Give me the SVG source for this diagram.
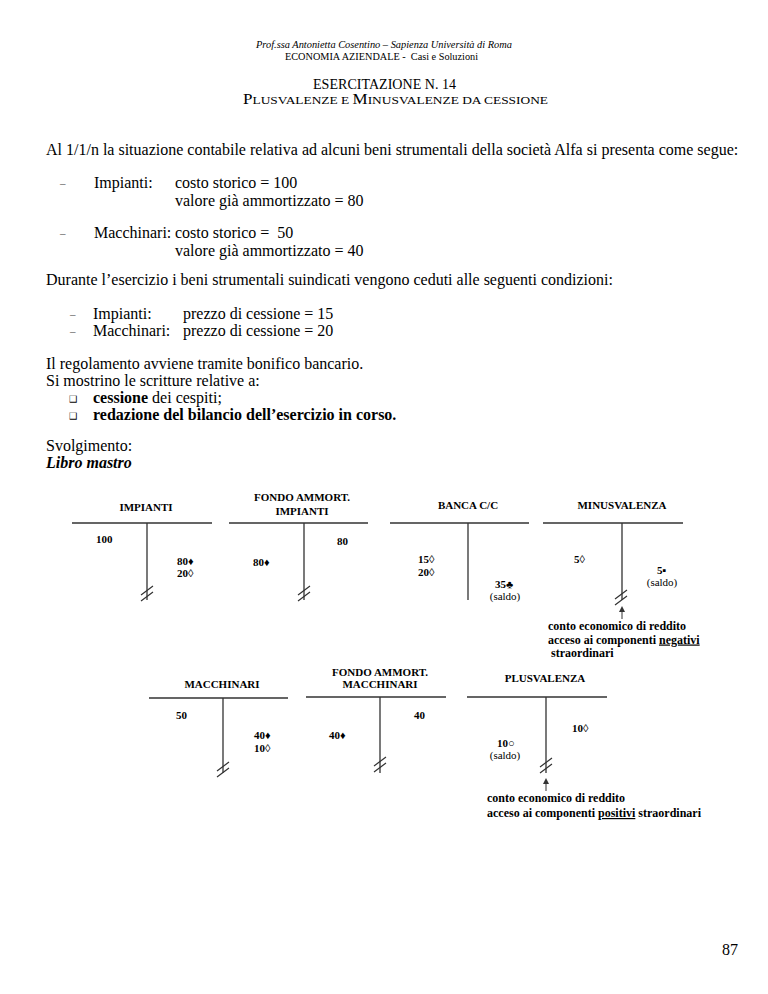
<svg xmlns="http://www.w3.org/2000/svg" xmlns:xlink="http://www.w3.org/1999/xlink" width="768" height="994" viewBox="0 0 768 994">
<style>
text{font-family:"Liberation Serif","Times New Roman",serif;fill:#000}
.body{font-size:16px}
.hd{font-size:11px;font-weight:bold;text-anchor:middle}
.num{font-size:11px;font-weight:bold}
.sal{font-size:11px;text-anchor:middle}
.note{font-size:12px;font-weight:bold}
.box{font-family:"DejaVu Sans",sans-serif;font-size:9px}
.dash{font-size:11px;fill:#444}
.t{stroke:#333;stroke-width:1.3;fill:none}
.brk{stroke:#333;stroke-width:1.2;fill:none}
.arr{stroke:#333;stroke-width:1;fill:none}
</style>
<defs>
<g id="brk"><path class="brk" d="M-6,2 L6,-7 M-6,8 L6,-1"/></g>
<marker id="ah" markerWidth="6" markerHeight="6" refX="3" refY="3" orient="auto" markerUnits="userSpaceOnUse"><path d="M0,0 L6,3 L0,6 Z" fill="#333"/></marker>
</defs>
<rect width="768" height="994" fill="#fff"/>

<g id="header">
<text x="256" y="48" font-size="10" font-style="italic" textLength="256" lengthAdjust="spacingAndGlyphs">Prof.ssa Antonietta Cosentino – Sapienza Università di Roma</text>
<text x="285" y="60" font-size="10" xml:space="preserve" textLength="193" lengthAdjust="spacingAndGlyphs">ECONOMIA AZIENDALE -  Casi e Soluzioni</text>
<text x="313" y="89" font-size="14" textLength="143" lengthAdjust="spacingAndGlyphs">ESERCITAZIONE N. 14</text>
<text x="243" y="104" font-size="11" textLength="305" lengthAdjust="spacingAndGlyphs"><tspan font-size="14">P</tspan>LUSVALENZE E <tspan font-size="14">M</tspan>INUSVALENZE DA CESSIONE</text>
</g>

<g id="testo">
<text class="body" x="46" y="155">Al 1/1/n la situazione contabile relativa ad alcuni beni strumentali della società Alfa si presenta come segue:</text>
<text class="dash" x="60" y="187">–</text>
<text class="body" x="94" y="188">Impianti:</text>
<text class="body" x="175" y="188">costo storico = 100</text>
<text class="body" x="175" y="206">valore già ammortizzato = 80</text>
<text class="dash" x="60" y="237">–</text>
<text class="body" x="94" y="238">Macchinari:</text>
<text class="body" x="175" y="238" xml:space="preserve">costo storico =  50</text>
<text class="body" x="175" y="256">valore già ammortizzato = 40</text>
<text class="body" x="46" y="285">Durante l’esercizio i beni strumentali suindicati vengono ceduti alle seguenti condizioni:</text>
<text class="dash" x="70" y="318">–</text>
<text class="body" x="93" y="319">Impianti:</text>
<text class="body" x="183" y="319">prezzo di cessione = 15</text>
<text class="dash" x="70" y="335">–</text>
<text class="body" x="93" y="336">Macchinari:</text>
<text class="body" x="183" y="336">prezzo di cessione = 20</text>
<text class="body" x="46" y="369">Il regolamento avviene tramite bonifico bancario.</text>
<text class="body" x="46" y="386">Si mostrino le scritture relative a:</text>
<text class="box" x="69" y="402">❑</text>
<text class="body" x="93" y="403"><tspan font-weight="bold">cessione</tspan> dei cespiti;</text>
<text class="box" x="69" y="419">❑</text>
<text class="body" x="93" y="420" font-weight="bold">redazione del bilancio dell’esercizio in corso.</text>
<text class="body" x="46" y="451">Svolgimento:</text>
<text class="body" x="46" y="468" font-weight="bold" font-style="italic">Libro mastro</text>
</g>

<g id="impianti">
<text class="hd" x="146" y="511">IMPIANTI</text>
<path class="t" d="M72,523 H212 M147,523 V600"/>
<use xlink:href="#brk" x="147" y="593"/>
<text class="num" x="96" y="543">100</text>
<text class="num" x="177" y="565">80♦</text>
<text class="num" x="177" y="577">20◊</text>
</g>

<g id="fondo-impianti">
<text class="hd" x="302" y="501">FONDO AMMORT.</text>
<text class="hd" x="302" y="515">IMPIANTI</text>
<path class="t" d="M229,523 H368 M304,523 V600"/>
<use xlink:href="#brk" x="304" y="593"/>
<text class="num" x="337" y="545">80</text>
<text class="num" x="253" y="566">80♦</text>
</g>

<g id="banca">
<text class="hd" x="468" y="509">BANCA C/C</text>
<path class="t" d="M390,523 H529 M468,523 V600"/>
<text class="num" x="418" y="563">15◊</text>
<text class="num" x="418" y="576">20◊</text>
<text class="num" x="495" y="588">35♣</text>
<text class="sal" x="505" y="600">(saldo)</text>
</g>

<g id="minusvalenza">
<text class="hd" x="622" y="509">MINUSVALENZA</text>
<path class="t" d="M543,523 H683 M622,523 V600"/>
<use xlink:href="#brk" x="621" y="597"/>
<text class="num" x="574" y="563">5◊</text>
<text class="num" x="657" y="574">5▪</text>
<text class="sal" x="662" y="586">(saldo)</text>
<text class="note" x="548" y="630">conto economico di reddito</text>
<text class="note" x="548" y="643.5">acceso ai componenti <tspan text-decoration="underline">negativi</tspan></text>
<text class="note" x="551" y="657">straordinari</text>
</g>

<g id="macchinari">
<text class="hd" x="222" y="688">MACCHINARI</text>
<path class="t" d="M149,698 H288 M223,698 V773"/>
<use xlink:href="#brk" x="223" y="769"/>
<text class="num" x="176" y="719">50</text>
<text class="num" x="254" y="739">40♦</text>
<text class="num" x="254" y="752">10◊</text>
</g>

<g id="fondo-macchinari">
<text class="hd" x="380" y="676">FONDO AMMORT.</text>
<text class="hd" x="380" y="688">MACCHINARI</text>
<path class="t" d="M306,697 H446 M380,697 V773"/>
<use xlink:href="#brk" x="380" y="764"/>
<text class="num" x="414" y="719">40</text>
<text class="num" x="329" y="739">40♦</text>
</g>

<g id="plusvalenza">
<text class="hd" x="545" y="682">PLUSVALENZA</text>
<path class="t" d="M467,697 H607 M546,697 V773"/>
<use xlink:href="#brk" x="546" y="765"/>
<text class="num" x="572" y="732">10◊</text>
<text class="num" x="497" y="747">10○</text>
<text class="sal" x="505" y="759">(saldo)</text>
<text class="note" x="487" y="802">conto economico di reddito</text>
<text class="note" x="487" y="817">acceso ai componenti <tspan text-decoration="underline">positivi</tspan> straordinari</text>
</g>

<g id="connectors">
<path class="arr" d="M622,619 V609" marker-end="url(#ah)"/>
<path class="arr" d="M546,791 V781" marker-end="url(#ah)"/>
</g>

<text x="738" y="955" font-size="16" text-anchor="end">87</text>
</svg>
